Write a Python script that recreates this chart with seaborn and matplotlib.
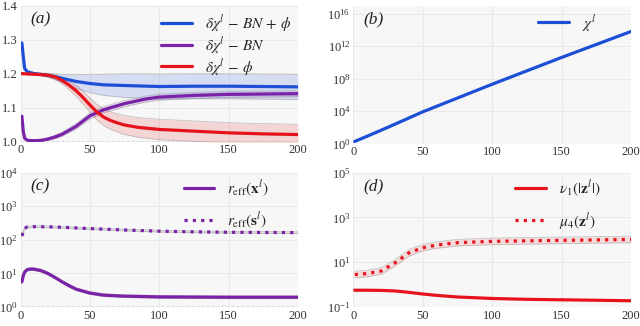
import numpy as np
import pandas as pd
import matplotlib
matplotlib.use("Agg")
import matplotlib.pyplot as plt
import seaborn as sns

# ---------------- data ----------------
# panel (a)
a_blue_x = [1, 2, 3, 5, 10, 20, 30, 40, 50, 60, 75, 100, 125, 150, 175, 200]
a_blue_y = [1.29, 1.25, 1.215, 1.205, 1.200, 1.195, 1.186, 1.177, 1.171, 1.167, 1.165, 1.162, 1.163, 1.163, 1.162, 1.161]
a_blue_err = [0.0, 0.0, 0.0, 0.002, 0.003, 0.006, 0.012, 0.02, 0.027, 0.031, 0.035, 0.037, 0.037, 0.037, 0.037, 0.037]

a_purple_x = [1, 2, 3, 5, 10, 15, 20, 25, 30, 40, 50, 60, 75, 90, 100, 125, 150, 175, 200]
a_purple_y = [1.075, 1.03, 1.01, 1.004, 1.003, 1.004, 1.008, 1.014, 1.022, 1.045, 1.076, 1.094, 1.112, 1.125, 1.131, 1.136, 1.139, 1.140, 1.141]
a_purple_err = [0.0, 0.0, 0.0, 0.001, 0.002, 0.003, 0.004, 0.005, 0.006, 0.008, 0.009, 0.009, 0.009, 0.009, 0.009, 0.009, 0.009, 0.009, 0.009]

a_red_x = [1, 5, 10, 15, 20, 25, 30, 35, 40, 45, 50, 55, 60, 65, 70, 75, 85, 100, 125, 150, 175, 200]
a_red_y = [1.200, 1.199, 1.198, 1.197, 1.195, 1.190, 1.180, 1.166, 1.150, 1.130, 1.108, 1.087, 1.072, 1.062, 1.055, 1.049, 1.042, 1.036, 1.031, 1.026, 1.023, 1.021]
a_red_err = [0.0, 0.001, 0.002, 0.003, 0.005, 0.007, 0.010, 0.013, 0.016, 0.019, 0.021, 0.023, 0.025, 0.026, 0.027, 0.028, 0.029, 0.03, 0.03, 0.03, 0.03, 0.03]

# panel (b): log10 of chi^l
b_x = [1, 10, 25, 50, 75, 100, 125, 150, 175, 200]
b_log10_chi = [0.25, 0.9, 2.0, 3.9, 5.6, 7.3, 8.95, 10.6, 12.2, 13.8]

# panel (c)
c_x_x = [1, 2, 3, 5, 8, 10, 15, 20, 25, 30, 35, 40, 50, 60, 75, 100, 150, 200]
c_x_y = [5.6, 8.5, 11.0, 13.0, 13.5, 13.3, 12.0, 9.8, 7.5, 5.6, 4.3, 3.4, 2.6, 2.25, 2.1, 2.0, 1.95, 1.95]
c_s_x = [1, 3, 5, 10, 25, 50, 75, 100, 125, 150, 175, 200]
c_s_y = [130, 220, 240, 245, 240, 215, 195, 180, 172, 167, 165, 163]

# panel (d)
d_nu_x = [1, 10, 20, 30, 40, 50, 60, 75, 100, 125, 150, 175, 200]
d_nu_y = [0.56, 0.56, 0.55, 0.52, 0.45, 0.38, 0.33, 0.28, 0.24, 0.22, 0.21, 0.20, 0.19]
d_mu_x = [1, 10, 20, 30, 40, 50, 60, 75, 100, 150, 200]
d_mu_y = [2.8, 3.1, 4.0, 9.3, 26, 44, 58, 74, 85, 94, 103]

BLUE = "#1c4fd6"
PURPLE = "#7a22a8"
RED = "#e5141c"

sns.set_style("whitegrid", {"axes.facecolor": "#f7f7f7", "grid.color": "#e9e9e9",
                            "axes.edgecolor": "#f7f7f7"})
plt.rcParams["font.family"] = ["serif"]
plt.rcParams["font.serif"] = ["Liberation Serif", "DejaVu Serif"]
plt.rcParams["mathtext.fontset"] = "stix"
plt.rcParams["axes.grid"] = True

fig = plt.figure(figsize=(6.4, 3.26), dpi=100)
W, H = 640.0, 326.0
def box(l, r, t, b):
    return [l / W, 1 - b / H, (r - l) / W, (b - t) / H]

ax_a = fig.add_axes(box(20.5, 298, 5.5, 141.7))
ax_b = fig.add_axes(box(353.3, 631, 5.5, 143.5))
ax_c = fig.add_axes(box(20.5, 298, 172.5, 307))
ax_d = fig.add_axes(box(353.3, 631, 172.5, 307))

LW = 2.3

def band(ax, x, y, err, color, log=False, alpha=0.15):
    x = np.asarray(x); y = np.asarray(y); err = np.asarray(err)
    if log:
        lo, hi = y / err, y * err
    else:
        lo, hi = y - err, y + err
    ax.fill_between(x, lo, hi, color=color, alpha=alpha, lw=0)
    ax.plot(x, lo, color="#888888", lw=0.6, alpha=0.45)
    ax.plot(x, hi, color="#888888", lw=0.6, alpha=0.45)

# ---- (a)
band(ax_a, a_blue_x, a_blue_y, a_blue_err, BLUE)
band(ax_a, a_purple_x, a_purple_y, a_purple_err, PURPLE)
band(ax_a, a_red_x, a_red_y, a_red_err, RED)
sns.lineplot(x=a_blue_x, y=a_blue_y, ax=ax_a, color=BLUE, lw=LW,
             label=r"$\delta\chi^l\,-\,BN\,+\,\phi$")
sns.lineplot(x=a_purple_x, y=a_purple_y, ax=ax_a, color=PURPLE, lw=LW,
             label=r"$\delta\chi^l\,-\,BN$")
sns.lineplot(x=a_red_x, y=a_red_y, ax=ax_a, color=RED, lw=LW,
             label=r"$\delta\chi^l\,-\,\phi$")
ax_a.axhline(1.0, color="#222222", lw=0.9, ls=(0, (2.5, 1.5)), zorder=1)
ax_a.set_ylim(1.0, 1.4)
ax_a.set_yticks([1.0, 1.1, 1.2, 1.3, 1.4])

# ---- (b)
b_chi = [10 ** v for v in b_log10_chi]
sns.lineplot(x=b_x, y=b_chi, ax=ax_b, color=BLUE, lw=LW, label=r"$\chi^l$")
ax_b.set_yscale("log")
ax_b.set_ylim(1, 1e17)
ax_b.set_yticks([1, 1e4, 1e8, 1e12, 1e16])
ax_b.minorticks_off()

# ---- (c)
band(ax_c, c_x_x, c_x_y, [1.1] * len(c_x_x), "#999999", log=True, alpha=0.25)
band(ax_c, c_s_x, c_s_y, [1.06] * len(c_s_x), "#999999", log=True, alpha=0.25)
sns.lineplot(x=c_x_x, y=c_x_y, ax=ax_c, color=PURPLE, lw=LW,
             label=r"$r_{\mathrm{eff}}(\mathbf{x}^l)$")
sns.lineplot(x=c_s_x, y=c_s_y, ax=ax_c, color=PURPLE, lw=LW, ls=(0, (1, 1.6)),
             label=r"$r_{\mathrm{eff}}(\mathbf{s}^l)$")
ax_c.axhline(1.0, color="#222222", lw=0.9, ls=(0, (2.5, 1.5)), zorder=1)
ax_c.set_yscale("log")
ax_c.set_ylim(1, 1e4)
ax_c.set_yticks([1, 10, 100, 1000, 1e4])
ax_c.minorticks_off()

# ---- (d)
band(ax_d, d_mu_x, d_mu_y, [1.4] * len(d_mu_x), RED, log=True, alpha=0.12)
sns.lineplot(x=d_nu_x, y=d_nu_y, ax=ax_d, color=RED, lw=LW,
             label=r"$\nu_1(|\mathbf{z}^l|)$")
sns.lineplot(x=d_mu_x, y=d_mu_y, ax=ax_d, color=RED, lw=LW, ls=(0, (1, 1.6)),
             label=r"$\mu_4(\mathbf{z}^l)$")
ax_d.set_yscale("log")
ax_d.set_ylim(0.1, 1e5)
ax_d.set_yticks([0.1, 10, 1000, 1e5])
ax_d.minorticks_off()

for ax, lab in zip([ax_a, ax_b, ax_c, ax_d], ["(a)", "(b)", "(c)", "(d)"]):
    ax.set_xlim(0, 200)
    ax.set_xticks([0, 50, 100, 150, 200])
    ax.tick_params(axis="both", labelsize=9, length=0, pad=2, colors="#333333")
    for s in ax.spines.values():
        s.set_visible(False)
    ax.text(0.035, 0.90, lab, transform=ax.transAxes, fontsize=12.5,
            style="italic", va="center", ha="left", color="#222222")
    ax.grid(True, color="#e9e9e9", lw=0.8)

leg_kw = dict(frameon=False, loc="upper right", handlelength=2.0, fontsize=11,
              borderaxespad=0.0, borderpad=0.0, handletextpad=0.85)
ax_a.legend(labelspacing=0.05, bbox_to_anchor=(0.975, 0.95), **leg_kw)
ax_b.legend(labelspacing=0.1, bbox_to_anchor=(0.875, 0.955), **leg_kw)
ax_c.legend(labelspacing=0.75, bbox_to_anchor=(0.895, 0.96), **leg_kw)
ax_d.legend(labelspacing=0.75, bbox_to_anchor=(0.89, 0.96), **leg_kw)

fig.savefig("out.png", dpi=100)
